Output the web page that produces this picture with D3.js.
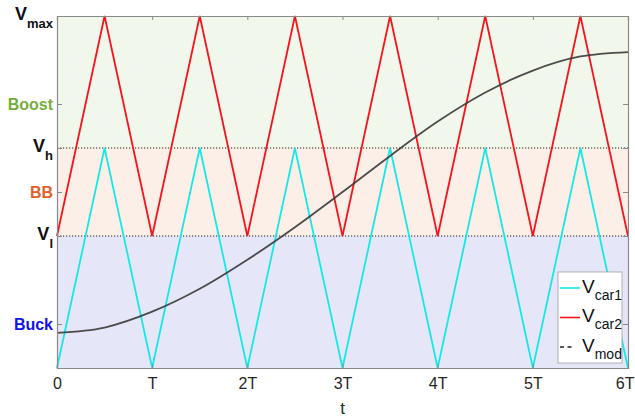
<!DOCTYPE html>
<html>
<head>
<meta charset="utf-8">
<script src="https://cdn.jsdelivr.net/npm/d3@7"></script>
<style>
  body { margin: 0; background: #fff; }
  text { font-family: "Liberation Sans", Arial, sans-serif; }
</style>
</head>
<body>
<div id="chart"></div>
<script>
// sample instants (in units of T)
const tPoints = [0, 0.5, 1, 1.5, 2, 2.5, 3, 3.5, 4, 4.5, 5, 5.5, 6];
// carrier 1: between 0 and Vh
const car1 = [0, 2.5, 0, 2.5, 0, 2.5, 0, 2.5, 0, 2.5, 0, 2.5, 0];
// carrier 2: between Vl and Vmax
const car2 = [1.5, 4, 1.5, 4, 1.5, 4, 1.5, 4, 1.5, 4, 1.5, 4, 1.5];
// modulating signal
const vmod = [0.40, 0.46, 0.64, 0.90, 1.23, 1.60, 2.00, 2.41, 2.80, 3.13, 3.38, 3.54, 3.59];

const xTicks = [0, 1, 2, 3, 4, 5, 6];
const xTickLabels = ['0', 'T', '2T', '3T', '4T', '5T', '6T'];
const vLevels = { l: 1.5, h: 2.5, max: 4 };

// regions of operation
const regions = [
  { name: 'Buck', from: 0, to: 1.5, fill: '#e6e6f9', color: '#1414e8', tick: 0.5 },
  { name: 'BB', from: 1.5, to: 2.5, fill: '#fcefe8', color: '#e2602c', tick: 2 },
  { name: 'Boost', from: 2.5, to: 4, fill: '#f2f7eb', color: '#78ad3e', tick: 3 }
];
const voltTicks = [
  { v: 1.5, main: 'V', sub: 'l' },
  { v: 2.5, main: 'V', sub: 'h' },
  { v: 4, main: 'V', sub: 'max' }
];

const width = 635, height = 419;
const margin = { top: 16, right: 7, bottom: 51, left: 57 };
const innerW = width - margin.left - margin.right;
const innerH = height - margin.top - margin.bottom;

const svg = d3.select('#chart').append('svg')
  .attr('width', width)
  .attr('height', height);

const g = svg.append('g')
  .attr('transform', 'translate(' + margin.left + ',' + margin.top + ')');

const x = d3.scaleLinear().domain([0, 6]).range([0, innerW]);
const y = d3.scaleLinear().domain([0, 4]).range([innerH, 0]);

// background bands
g.selectAll('rect.band')
  .data(regions)
  .enter().append('rect')
  .attr('class', 'band')
  .attr('x', 0)
  .attr('width', innerW)
  .attr('y', d => y(d.to))
  .attr('height', d => y(d.from) - y(d.to))
  .attr('fill', d => d.fill);

// dotted limits Vl and Vh
g.selectAll('line.lim')
  .data([vLevels.l, vLevels.h])
  .enter().append('line')
  .attr('x1', 0).attr('x2', innerW)
  .attr('y1', d => y(d)).attr('y2', d => y(d))
  .attr('stroke', '#222')
  .attr('stroke-width', 1.1)
  .attr('stroke-dasharray', '1.2,1.8');

const line = (vals) => d3.line()
  .x((d, i) => x(tPoints[i]))
  .y(d => y(d))(vals);

g.append('path')
  .attr('d', line(car1))
  .attr('fill', 'none')
  .attr('stroke', '#16e8e8')
  .attr('stroke-width', 1.8);

g.append('path')
  .attr('d', line(car2))
  .attr('fill', 'none')
  .attr('stroke', '#f5141e')
  .attr('stroke-width', 1.8);

g.append('path')
  .attr('d', d3.line()
    .x((d, i) => x(tPoints[i]))
    .y(d => y(d))
    .curve(d3.curveMonotoneX)(vmod))
  .attr('fill', 'none')
  .attr('stroke', '#3a3a3a')
  .attr('stroke-opacity', 0.9)
  .attr('stroke-width', 1.8);

// axes box
const axisColor = '#8a8a8a';
const yTickVals = regions.map(r => r.tick).concat(voltTicks.map(d => d.v));

const axBottom = g.append('g')
  .attr('transform', 'translate(0,' + innerH + ')')
  .call(d3.axisBottom(x).tickValues(xTicks).tickSize(-4).tickPadding(10)
    .tickFormat((d, i) => xTickLabels[i]));
const axTop = g.append('g')
  .call(d3.axisTop(x).tickValues(xTicks).tickSize(-4).tickFormat(''));
const axLeft = g.append('g')
  .call(d3.axisLeft(y).tickValues(yTickVals).tickSize(-5).tickFormat(''));
const axRight = g.append('g')
  .attr('transform', 'translate(' + innerW + ',0)')
  .call(d3.axisRight(y).tickValues(yTickVals).tickSize(-5).tickFormat(''));

[axBottom, axTop, axLeft, axRight].forEach(a => {
  a.select('.domain').attr('stroke', axisColor).attr('stroke-width', 1.2);
  a.selectAll('.tick line').attr('stroke', axisColor);
});
axBottom.selectAll('.tick text')
  .attr('fill', '#262626')
  .style('font-size', '16px');
// keep the last label inside the page
axBottom.selectAll('.tick text')
  .filter(d => d === 6)
  .attr('text-anchor', 'end')
  .attr('dx', 6);

// region labels on the y axis
g.selectAll('text.region')
  .data(regions)
  .enter().append('text')
  .attr('class', 'region')
  .attr('x', -4)
  .attr('y', d => y(d.tick))
  .attr('dy', '0.35em')
  .attr('text-anchor', 'end')
  .attr('fill', d => d.color)
  .style('font-size', '16px')
  .style('font-weight', 'bold')
  .text(d => d.name);

// voltage level labels
const vl = g.selectAll('text.volt')
  .data(voltTicks)
  .enter().append('text')
  .attr('class', 'volt')
  .attr('x', -4)
  .attr('y', d => y(d.v))
  .attr('dy', '0.25em')
  .attr('text-anchor', 'end')
  .attr('fill', '#111')
  .style('font-weight', 'bold');
vl.append('tspan').style('font-size', '18px').text(d => d.main);
vl.append('tspan').style('font-size', '13px').attr('dy', 8).text(d => d.sub);

// x axis title
svg.append('text')
  .attr('x', margin.left + innerW / 2)
  .attr('y', 414)
  .attr('text-anchor', 'middle')
  .attr('fill', '#262626')
  .style('font-size', '17px')
  .text('t');

// legend
const legendItems = [
  { sub: 'car1', color: '#16e8e8', dash: null, len: 20 },
  { sub: 'car2', color: '#f5141e', dash: null, len: 20 },
  { sub: 'mod', color: '#222', dash: '4,3.5', len: 12 }
];
const lg = svg.append('g').attr('transform', 'translate(558,272)');
lg.append('rect')
  .attr('width', 64).attr('height', 91)
  .attr('fill', '#fff')
  .attr('stroke', '#a0a0a0')
  .attr('stroke-width', 0.8);
const item = lg.selectAll('g.item')
  .data(legendItems)
  .enter().append('g')
  .attr('transform', (d, i) => 'translate(0,' + (16 + i * 29.5) + ')');
item.append('line')
  .attr('x1', 2).attr('x2', d => 2 + d.len)
  .attr('stroke', d => d.color)
  .attr('stroke-width', 1.6)
  .attr('stroke-dasharray', d => d.dash);
const lt = item.append('text')
  .attr('x', 24)
  .attr('y', 0)
  .attr('dy', '0.3em')
  .attr('fill', '#111');
lt.append('tspan').style('font-size', '19px').text('V');
lt.append('tspan').style('font-size', '14px').attr('dy', 7).text(d => d.sub);
</script>
</body>
</html>
